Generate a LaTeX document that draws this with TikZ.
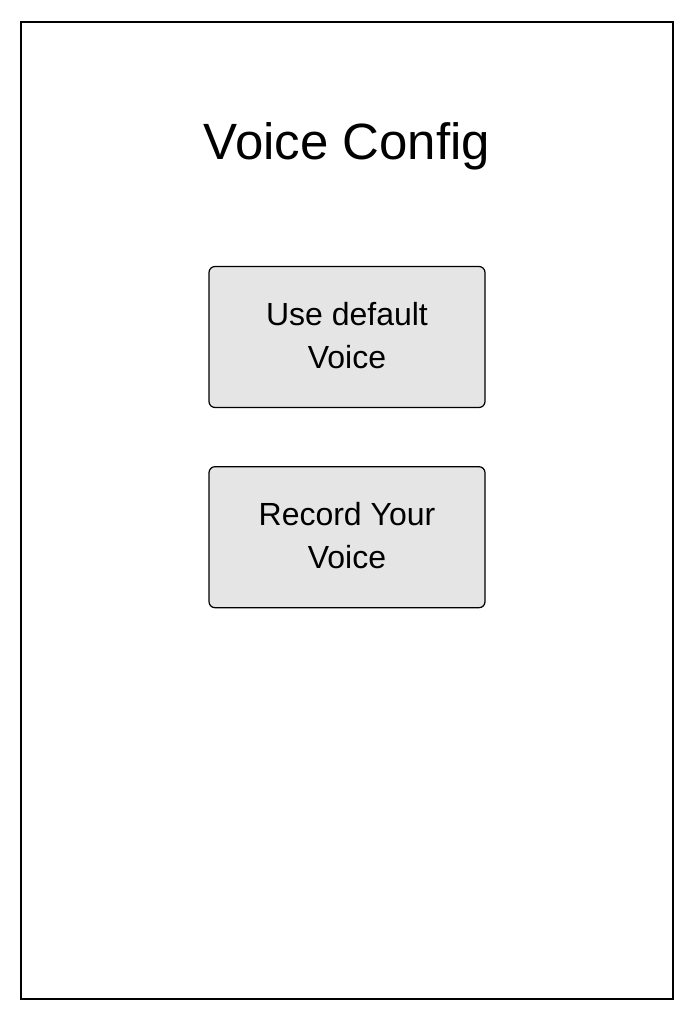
\documentclass[tikz,border=0pt]{standalone}
\usepackage{fontspec}
\setmainfont{Liberation Sans}
\usepackage{tikz}
\usetikzlibrary{positioning}

\begin{document}
\begin{tikzpicture}[
            x = 1pt, y = -1pt, % pixel-like units, y down
            screen/.style = {draw, line width=1.8pt}, % phone frame
            title/.style = {font=\fontsize{51}{60}\selectfont}, % heading
            voicebtn/.style = {draw, fill=black!10, rounded corners=6pt,
                line width=1.2pt, minimum width=276pt, minimum height=141pt,
                align=center, text depth=3pt,
                font=\fontsize{32}{43}\selectfont} % button
        ]

	\useasboundingbox (0,0) rectangle (692,1019);
	\draw[screen] (21,22) rectangle (673,999);

	\node[title, anchor=base] (head) at (347,160) {Voice Config};
	\node[voicebtn] (default) at (347,337) {Use default\\Voice};
	\node[voicebtn] (record) [below=58pt of default] {Record Your\\Voice};

\end{tikzpicture}
\end{document}
